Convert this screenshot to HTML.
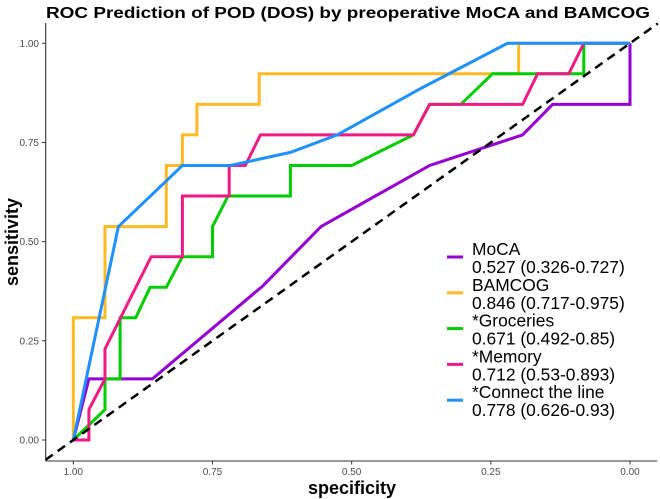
<!DOCTYPE html>
<html><head><meta charset="utf-8"><style>
html,body{margin:0;padding:0;background:#fff;}
svg{display:block;font-family:"Liberation Sans",Arial,sans-serif;}
</style></head><body>
<svg id="chart" width="660" height="499" viewBox="0 0 660 499">
<text x="46" y="18" font-size="16" font-weight="bold" textLength="604" lengthAdjust="spacingAndGlyphs">ROC Prediction of POD (DOS) by preoperative MoCA and BAMCOG</text>
<g id="plot"></g>
<line x1="45.7" y1="23" x2="45.7" y2="461" stroke="#333" stroke-width="1.1"/>
<line x1="45.7" y1="461" x2="657" y2="461" stroke="#333" stroke-width="1.1"/>
<g id="yticks"></g>
<g id="xticks"></g>
<text x="352" y="494" font-size="18" font-weight="bold" text-anchor="middle">specificity</text>
<text transform="translate(18,242) rotate(-90)" font-size="18" font-weight="bold" text-anchor="middle">sensitivity</text>
<g id="legend"></g>
</svg>
<script>
const tickValues = [0, 0.25, 0.5, 0.75, 1];
const tickLabels = ["0.00", "0.25", "0.50", "0.75", "1.00"];
const seriesNames = ["MoCA", "BAMCOG", "*Groceries", "*Memory", "*Connect the line"];
const seriesAUC = ["0.527 (0.326-0.727)", "0.846 (0.717-0.975)", "0.671 (0.492-0.85)", "0.712 (0.53-0.893)", "0.778 (0.626-0.93)"];
const seriesColors = ["#9400D3", "#FFBA26", "#00CC00", "#F01A85", "#1E90FF"];
const mocaSpec = [1, 0.972, 0.858, 0.66, 0.555, 0.36, 0.193, 0.139, 0, 0];
const mocaSens = [0, 0.154, 0.154, 0.388, 0.538, 0.692, 0.769, 0.846, 0.846, 1];
const bamcogSpec = [1, 1, 0.943, 0.943, 0.833, 0.833, 0.804, 0.804, 0.778, 0.778, 0.666, 0.666, 0.2, 0.2, 0];
const bamcogSens = [0, 0.308, 0.308, 0.538, 0.538, 0.692, 0.692, 0.769, 0.769, 0.846, 0.846, 0.923, 0.923, 1, 1];
const grocSpec = [1, 0.943, 0.943, 0.916, 0.916, 0.888, 0.862, 0.833, 0.804, 0.75, 0.75, 0.722, 0.61, 0.61, 0.5, 0.389, 0.36, 0.304, 0.247, 0.083, 0.083, 0];
const grocSens = [0, 0.077, 0.154, 0.154, 0.308, 0.308, 0.385, 0.385, 0.462, 0.462, 0.538, 0.615, 0.615, 0.692, 0.692, 0.769, 0.846, 0.846, 0.923, 0.923, 1, 1];
const memSpec = [1, 0.972, 0.972, 0.943, 0.943, 0.86, 0.804, 0.804, 0.72, 0.72, 0.691, 0.664, 0.389, 0.36, 0.193, 0.166, 0.11, 0.083, 0];
const memSens = [0, 0, 0.077, 0.154, 0.23, 0.462, 0.462, 0.615, 0.615, 0.692, 0.692, 0.769, 0.769, 0.846, 0.846, 0.923, 0.923, 1, 1];
const connSpec = [1, 0.919, 0.804, 0.718, 0.61, 0.526, 0.376, 0.22, 0];
const connSens = [0, 0.538, 0.692, 0.692, 0.725, 0.769, 0.886, 1, 1];
const specs = [mocaSpec, bamcogSpec, grocSpec, memSpec, connSpec];
const sens = [mocaSens, bamcogSens, grocSens, memSens, connSens];

const NS = "http://www.w3.org/2000/svg";
const xScale = s => 73.3 + (1 - s) * 556.7;
const yScale = v => 440 - v * 396.7;
function mk(tag, attrs, parent) {
  const e = document.createElementNS(NS, tag);
  for (const k in attrs) e.setAttribute(k, attrs[k]);
  parent.appendChild(e);
  return e;
}
const plot = document.getElementById("plot");
const yt = document.getElementById("yticks");
const xt = document.getElementById("xticks");
tickValues.forEach((v, i) => {
  const y = yScale(v);
  const t1 = mk("line", {x1: 42, x2: 45.7, y1: y, y2: y, stroke: "#333", "stroke-width": 1}, yt);
  
  
  const l1 = mk("text", {x: 39, y: y + 3.5, "font-size": 10, fill: "#4d4d4d", "text-anchor": "end"}, yt);
  l1.textContent = tickLabels[i];
  
  
  const x = xScale(v);
  const t2 = mk("line", {x1: x, x2: x, y1: 461, y2: 464.5, stroke: "#333", "stroke-width": 1}, xt);
  
  
  const l2 = mk("text", {x: x, y: 475, "font-size": 10, fill: "#4d4d4d", "text-anchor": "middle"}, xt);
  l2.textContent = tickLabels[i];
  
  
});
specs.forEach((sp, k) => {
  const pts = sp.map((s, i) => xScale(s).toFixed(1) + "," + yScale(sens[k][i]).toFixed(1)).join(" ");
  const pl = mk("polyline", {points: pts, fill: "none", stroke: seriesColors[k], "stroke-width": 3, "stroke-linejoin": "miter"}, plot);
  
  
});
const diag = mk("line", {x1: xScale(1.05), y1: yScale(-0.05), x2: xScale(-0.05), y2: yScale(1.05), stroke: "#000", "stroke-width": 2.5, "stroke-dasharray": "9,6"}, plot);


const lg = document.getElementById("legend");
seriesNames.forEach((n, k) => {
  const cy = 257 + k * 35.8;
  const key = mk("line", {x1: 447, x2: 463, y1: cy, y2: cy, stroke: seriesColors[k], "stroke-width": 3}, lg);
  
  
  const t = mk("text", {x: 472, y: cy - 2, "font-size": 17.4, fill: "#000"}, lg);
  t.textContent = n;
  
  
  const t2 = mk("text", {x: 472, y: cy + 16, "font-size": 17.4, fill: "#000"}, lg);
  t2.textContent = seriesAUC[k];
  
  
});
</script>
</body></html>
